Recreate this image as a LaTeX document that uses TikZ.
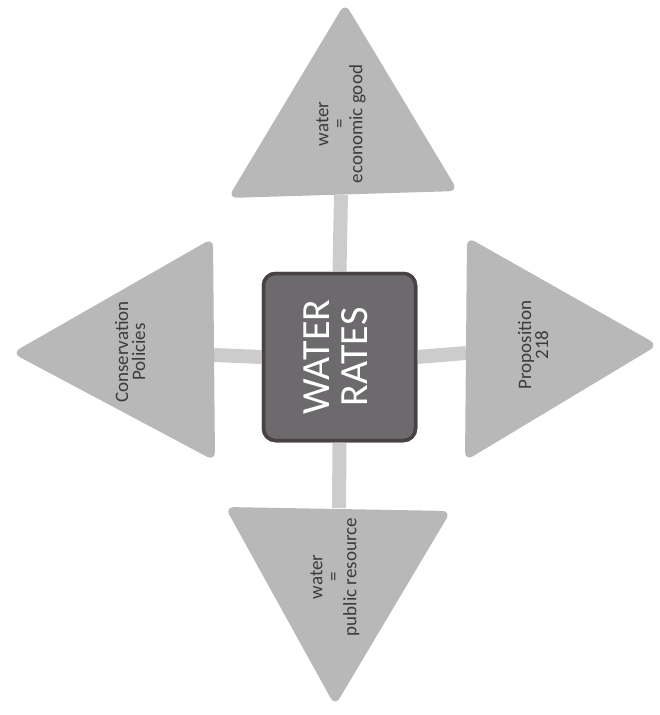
\documentclass[tikz,border=0pt]{standalone}
\usepackage{fontspec}
\setmainfont{Carlito}
\definecolor{trifill}{RGB}{184,184,184}
\definecolor{connfill}{RGB}{204,204,204}
\definecolor{hubfill}{RGB}{108,106,108}
\definecolor{hubdraw}{RGB}{72,66,68}
\definecolor{txt}{RGB}{60,60,60}
\tikzset{
  tri/.style={fill=trifill, rounded corners=9pt},
  conn/.style={draw=connfill, line width=14pt},
  lbl/.style={rotate=90, align=center, text=txt, font=\fontsize{19}{17}\selectfont},
  hub/.style={draw=hubdraw, fill=hubfill, line width=3.5pt, rounded corners=12pt,
    minimum width=152pt, minimum height=167pt, inner sep=0pt}
}
\begin{document}
\begin{tikzpicture}[x=1pt,y=-1pt]
\useasboundingbox (0,0) rectangle (660,715);
% anchor points of the triangles' bases
\coordinate (tbase) at (341,195);
\coordinate (lbase) at (214,355);
\coordinate (rbase) at (466,353);
\coordinate (bbase) at (339,508);
% connectors (behind)
\node[hub] (hub) at (339.5,357) {};
\draw[conn] (hub.north) -- (tbase);
\draw[conn] (hub.west) -- (lbase);
\draw[conn] (hub.east) -- (rbase);
\draw[conn] (hub.south) -- (bbase);
% triangles
\path[tri] (345,3) -- (458,191) -- (228,198) -- cycle;
\path[tri] (12,353) -- (213,238) -- (215,461) -- cycle;
\path[tri] (658,345) -- (465,461) -- (467,237) -- cycle;
\path[tri] (335,706) -- (225,507) -- (451,511) -- cycle;
% hub on top
\node[hub, text=white, align=center, font=\fontsize{40}{46}\selectfont] (hubtext) at (339.5,357) {\rotatebox{90}{\begin{tabular}{@{}c@{}}WATER\\[-8pt]RATES\end{tabular}}};
% labels
\node[lbl] (top) at (341,124) {water\\=\\economic good};
\node[lbl] (left) at (130,352) {Conservation\\Policies};
\node[lbl] (right) at (533,345) {Proposition\\218};
\node[lbl] (bottom) at (335,577) {water\\=\\public resource};
\end{tikzpicture}
\end{document}
